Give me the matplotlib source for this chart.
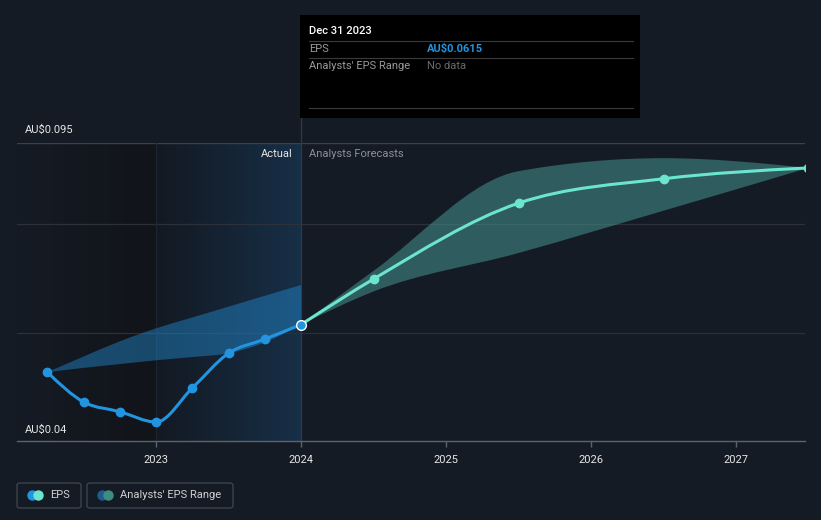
import numpy as np
import matplotlib
matplotlib.use("Agg")
import matplotlib.pyplot as plt
from matplotlib.path import Path
from matplotlib.patches import PathPatch, FancyBboxPatch
from matplotlib.lines import Line2D

plt.rcParams["font.family"] = ["Roboto", "DejaVu Sans"]

# EPS, actual (quarterly)
actual_t = [2022.25, 2022.5, 2022.75, 2023.0, 2023.25, 2023.5, 2023.75, 2024.0]
actual_eps = [0.0527, 0.0472, 0.0454, 0.0435, 0.0498, 0.0562, 0.0588, 0.0615]
actual_hi = [0.0527, 0.0556, 0.0584, 0.0608, 0.0628, 0.0648, 0.0668, 0.0688]
actual_lo = [0.0527, 0.0535, 0.0542, 0.0549, 0.0555, 0.0562, 0.0582, 0.0615]

# analysts' forecasts
fc_t = [2024.0, 2024.5, 2025.5, 2026.5, 2027.5]
fc_eps = [0.0615, 0.0699, 0.0839, 0.0884, 0.0904]
fc_hi = [0.0615, 0.0714, 0.0898, 0.0922, 0.0904]
fc_lo = [0.0615, 0.0676, 0.0747, 0.0825, 0.0904]

years = [2023, 2024, 2025, 2026, 2027]

BG = "#151b25"
BLUE = "#2394df"
AQUA = "#6ce5cf"


def smooth(x, y):
    # monotone cubic (like d3 curveMonotoneX) as bezier segments
    x = np.asarray(x, float)
    y = np.asarray(y, float)
    n = len(x)
    h = np.diff(x)
    s = np.diff(y) / h
    m = np.zeros(n)
    m[0], m[-1] = s[0], s[-1]
    for i in range(1, n - 1):
        if s[i - 1] * s[i] <= 0:
            m[i] = 0
        else:
            m[i] = (s[i - 1] * h[i] + s[i] * h[i - 1]) / (h[i - 1] + h[i])
            lim = 2 * min(abs(s[i - 1]), abs(s[i]))
            if abs(m[i]) > lim:
                m[i] = np.sign(m[i]) * lim
    if n > 2:
        m[0] = (3 * s[0] - m[1]) / 2 if s[0] * (3 * s[0] - m[1]) > 0 else 0
        m[-1] = (3 * s[-1] - m[-2]) / 2 if s[-1] * (3 * s[-1] - m[-2]) > 0 else 0
    verts = [(x[0], y[0])]
    for i in range(n - 1):
        d = h[i] / 3
        verts += [(x[i] + d, y[i] + m[i] * d), (x[i + 1] - d, y[i + 1] - m[i + 1] * d),
                  (x[i + 1], y[i + 1])]
    return verts


def line_path(x, y):
    v = smooth(x, y)
    return Path(v, [Path.MOVETO] + [Path.CURVE4] * (len(v) - 1))


def band_path(x, hi, lo):
    up = smooth(x, hi)
    dn = smooth(x, lo)[::-1]
    verts = up + dn + [up[0]]
    codes = ([Path.MOVETO] + [Path.CURVE4] * (len(up) - 1) + [Path.LINETO]
             + [Path.CURVE4] * (len(dn) - 1) + [Path.CLOSEPOLY])
    return Path(verts, codes)


fig = plt.figure(figsize=(8.21, 5.2), dpi=100, facecolor=BG)
ax = fig.add_axes([17 / 821, 79 / 520, 788 / 821, 298 / 520])
ax.set_facecolor(BG)

# past shading: dark to the left of 2023, blue glow up to today
grad = np.linspace(0, 1, 256).reshape(1, -1)
dark = matplotlib.colors.LinearSegmentedColormap.from_list("d", [BG, "#111419"])
glow = matplotlib.colors.LinearSegmentedColormap.from_list("g", ["#131922", "#172f47"])
ax.imshow(grad, extent=[2022.04, 2023.0, 0.04, 0.095], aspect="auto", cmap=dark, zorder=0,
          interpolation="bilinear")
ax.imshow(grad, extent=[2023.0, 2024.0, 0.04, 0.095], aspect="auto", cmap=glow, zorder=0,
          interpolation="bilinear")
ax.set_xlim(2022.04, 2027.476)
ax.set_ylim(0.04, 0.095)

for g in [0.06, 0.08]:
    ax.axhline(g, color="#2b3039", lw=0.9, zorder=1)
ax.axhline(0.095, color="#3b4049", lw=1, zorder=1)
ax.axvline(2024.0, color="#2c3a4a", lw=0.9, zorder=1)
ax.axvline(2023.0, color="#1c2430", lw=0.9, zorder=1)

ax.add_patch(PathPatch(band_path(actual_t, actual_hi, actual_lo), facecolor=BLUE,
                       alpha=0.42, edgecolor="none", zorder=2))
ax.add_patch(PathPatch(band_path(fc_t, fc_hi, fc_lo), facecolor="#4a9d97",
                       alpha=0.5, edgecolor="none", zorder=2))

ax.add_patch(PathPatch(line_path(actual_t, actual_eps), facecolor="none",
                       edgecolor=BLUE, lw=2.2, zorder=3, capstyle="round"))
ax.add_patch(PathPatch(line_path(fc_t, fc_eps), facecolor="none",
                       edgecolor=AQUA, lw=2.2, zorder=3, capstyle="round"))
ax.plot(actual_t[:-1], actual_eps[:-1], "o", color=BLUE, ms=6, zorder=4)
ax.plot(fc_t[1:], fc_eps[1:], "o", color=AQUA, ms=6, zorder=4)
ax.plot(actual_t[-1], actual_eps[-1], "o", color=BLUE, ms=7, mec="white", mew=1, zorder=5)

ax.set_xticks(years)
ax.set_xticklabels([str(y) for y in years])
ax.tick_params(axis="x", colors="#5d636b", length=4, width=1, labelcolor="#e6e6e6",
               labelsize=8, pad=6)
ax.set_yticks([])
for s in ["top", "left", "right"]:
    ax.spines[s].set_visible(False)
ax.spines["bottom"].set_color("#5d636b")
ax.spines["bottom"].set_linewidth(1)

fig.text(25 / 821, 1 - 130 / 520, "AU$0.095", color="#e6e6e6", fontsize=8, va="center")
fig.text(25 / 821, 1 - 430 / 520, "AU$0.04", color="#e6e6e6", fontsize=8, va="center")
fig.text(293 / 821, 1 - 154 / 520, "Actual", color="#e6e6e6", fontsize=8, va="center", ha="right")
fig.text(309 / 821, 1 - 154 / 520, "Analysts Forecasts", color="#8b9098", fontsize=8, va="center")

# tooltip
fig.add_artist(Line2D([301 / 821, 301 / 821], [1 - 118 / 520, 1 - 143 / 520],
                      color="#2c3a4a", lw=0.9))
fig.add_artist(matplotlib.patches.Rectangle((300 / 821, 1 - 118 / 520), 340 / 821, 103 / 520,
                                            facecolor="black", edgecolor="none"))
for yy in [41, 58, 108]:
    fig.add_artist(Line2D([309 / 821, 633 / 821], [1 - yy / 520] * 2, color="#3a3a3a", lw=0.8))
fig.text(309 / 821, 1 - 31 / 520, "Dec 31 2023", color="white", fontsize=8, va="center",
         fontweight="medium")
fig.text(309 / 821, 1 - 49 / 520, "EPS", color="#9a9a9a", fontsize=8, va="center")
fig.text(427 / 821, 1 - 49 / 520, "AU$0.0615", color=BLUE, fontsize=8, va="center",
         fontweight="bold")
fig.text(309 / 821, 1 - 66 / 520, "Analysts' EPS Range", color="#9a9a9a", fontsize=8, va="center")
fig.text(427 / 821, 1 - 66 / 520, "No data", color="#6a6a6a", fontsize=8, va="center")

# legend boxes
for x0, w in [(17, 64), (87, 146)]:
    fig.add_artist(FancyBboxPatch((x0 / 821, 1 - 508 / 520), w / 821, 25 / 520,
                                  boxstyle="round,pad=0,rounding_size=0.004",
                                  facecolor="none", edgecolor="#3d434c", lw=1))
for cx, c in [(32, BLUE), (38, AQUA), (102, "#1f5c8c"), (108, "#3f8c85")]:
    ax.plot([cx / 821], [1 - 495 / 520], "o", color=c, ms=6.5, transform=fig.transFigure,
            clip_on=False, zorder=6)
fig.text(50 / 821, 1 - 495 / 520, "EPS", color="#d0d0d0", fontsize=8, va="center")
fig.text(120 / 821, 1 - 495 / 520, "Analysts' EPS Range", color="#d0d0d0", fontsize=8, va="center")

fig.savefig("out.png", dpi=100, facecolor=BG)
